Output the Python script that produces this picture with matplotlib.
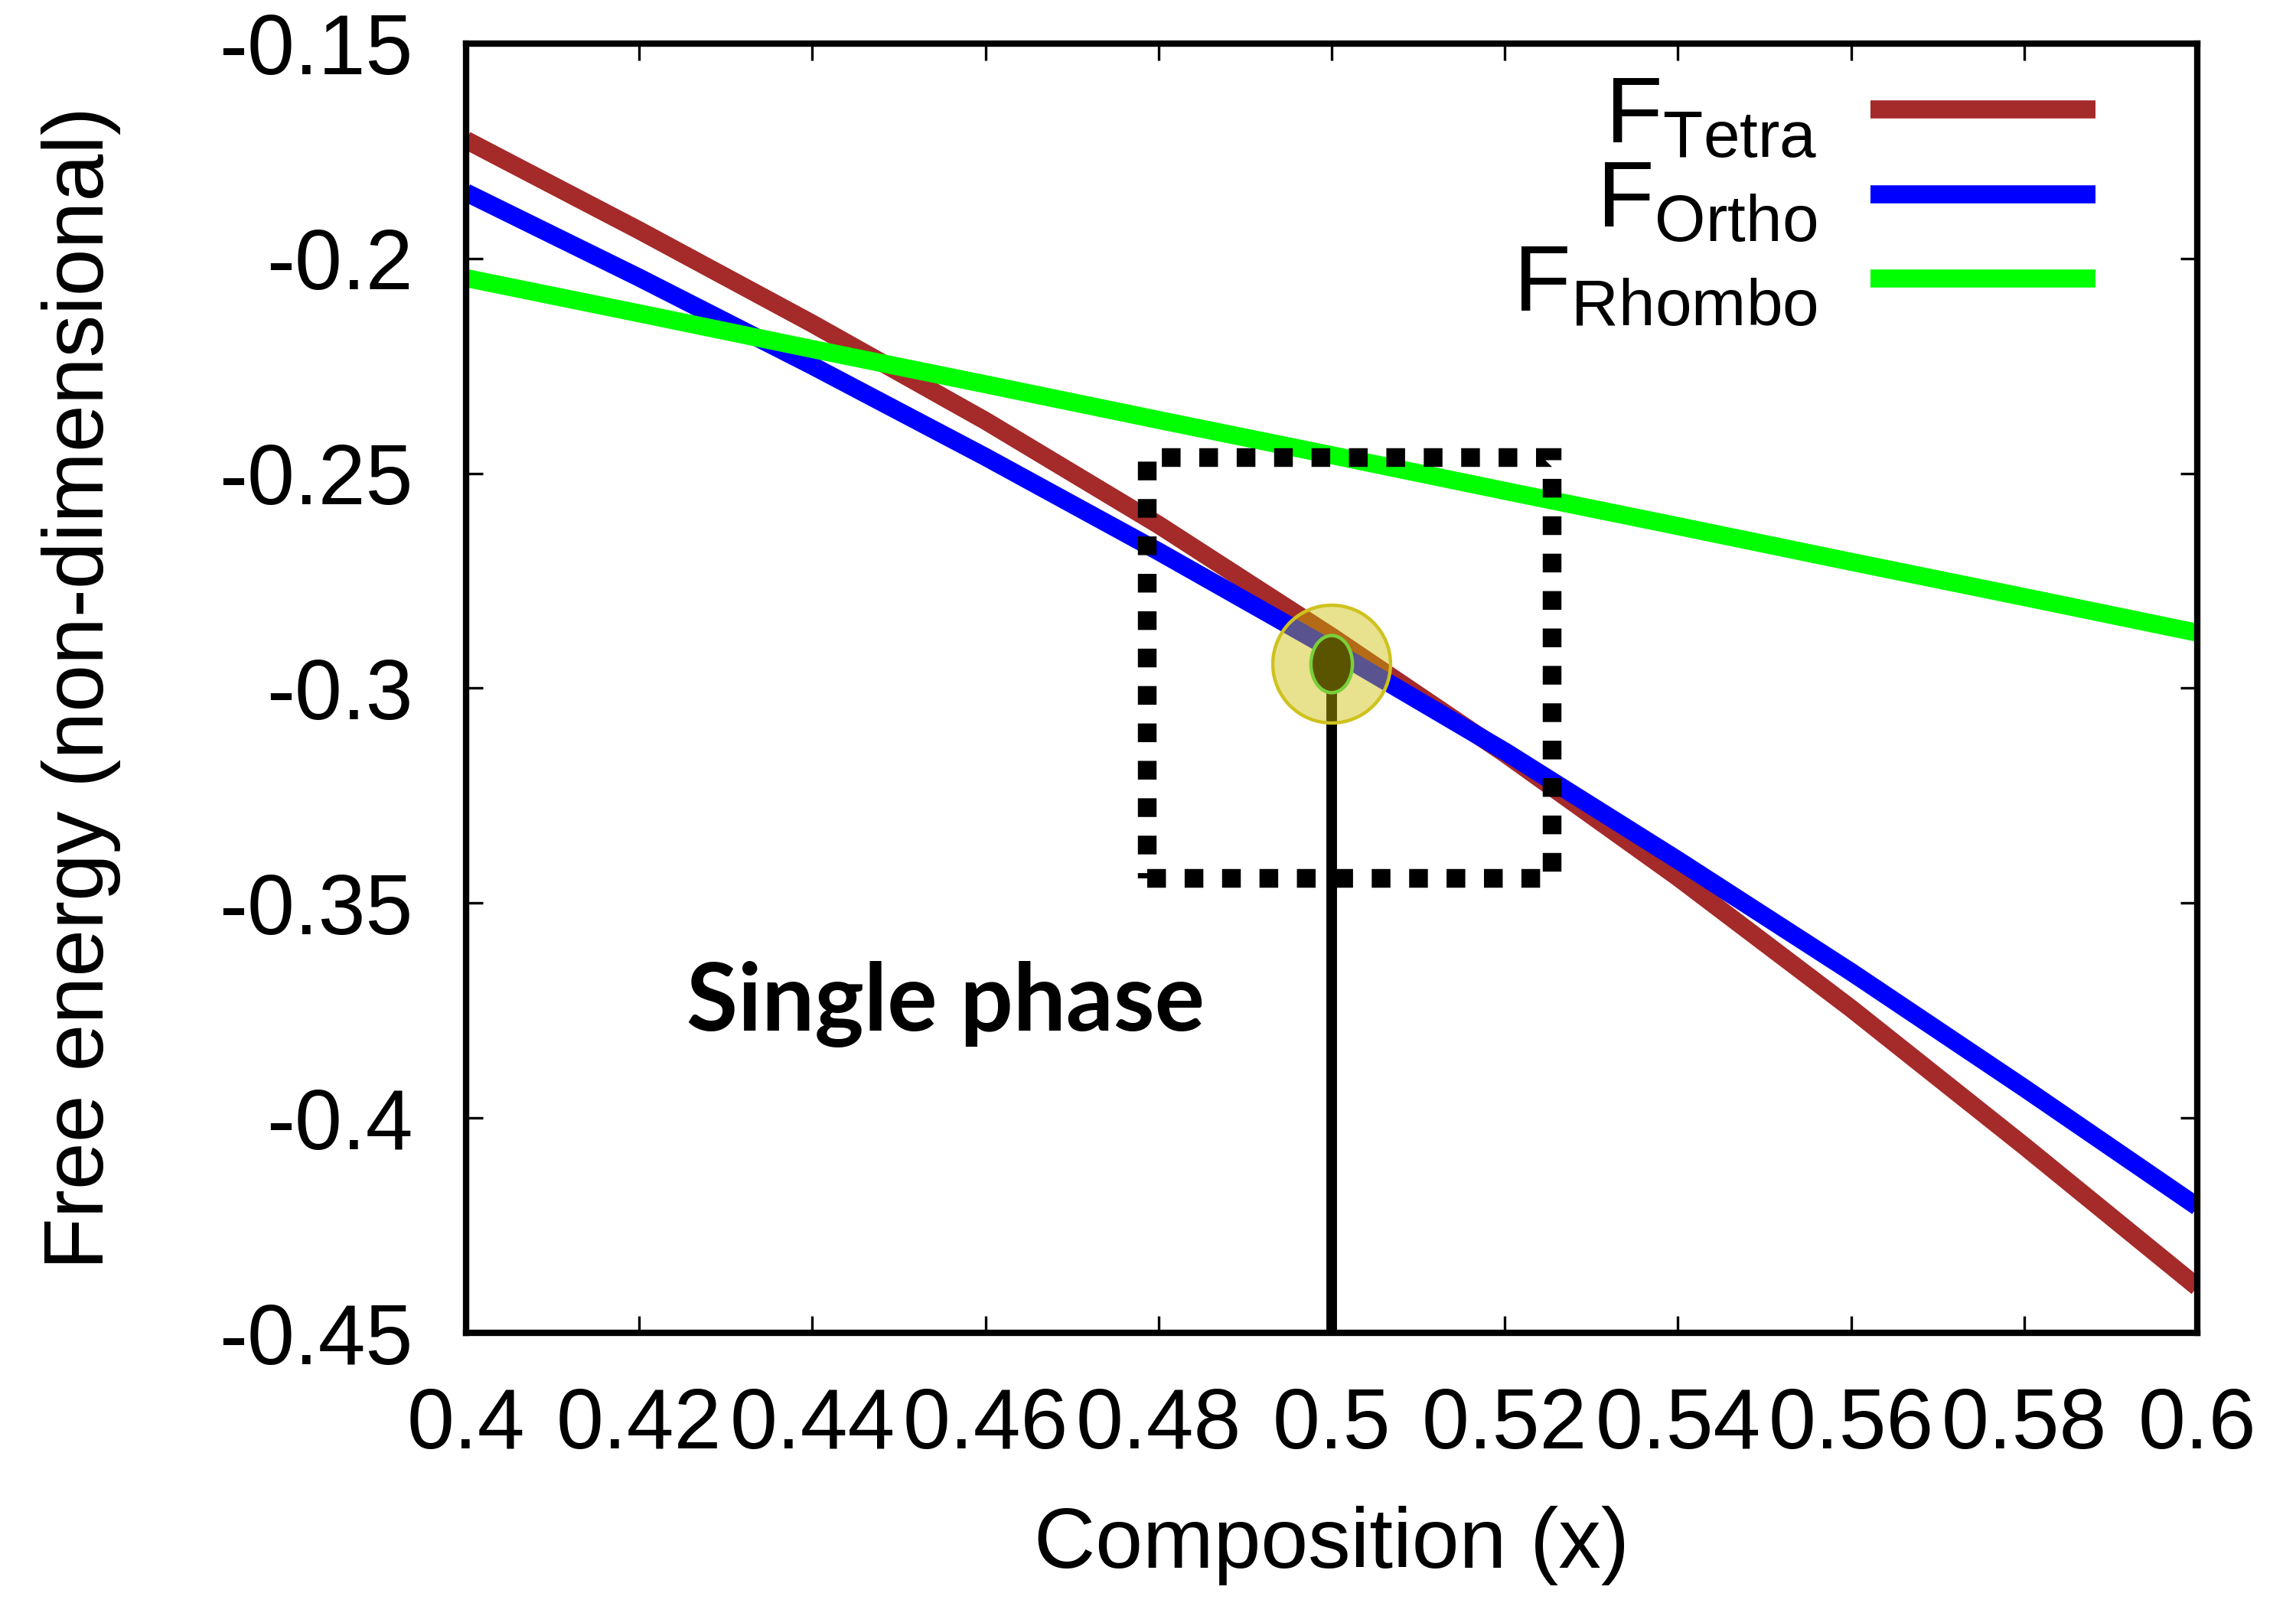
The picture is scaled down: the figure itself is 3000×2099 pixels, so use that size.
import matplotlib
matplotlib.use('Agg')
import matplotlib.pyplot as plt
from matplotlib.patches import Ellipse, Rectangle
from matplotlib.ticker import FuncFormatter

plt.rcParams['font.family'] = ['Liberation Sans', 'DejaVu Sans']
plt.rcParams['mathtext.fontset'] = 'custom'
plt.rcParams['mathtext.rm'] = 'Liberation Sans'
plt.rcParams['axes.unicode_minus'] = False

# ── Data ──
composition = [0.40, 0.42, 0.44, 0.46, 0.48, 0.50, 0.52, 0.54, 0.56, 0.58, 0.60]
f_tetra = [-0.1725, -0.1935, -0.2152, -0.2378, -0.2620, -0.2880, -0.3152,
           -0.3440, -0.3745, -0.4065, -0.4393]
f_ortho = [-0.1847, -0.2045, -0.2250, -0.2462, -0.2682, -0.2910, -0.3147,
           -0.3400, -0.3660, -0.3930, -0.4206]
f_rhombo = [-0.2046, -0.2128, -0.2211, -0.2293, -0.2376, -0.2458, -0.2541,
            -0.2623, -0.2706, -0.2788, -0.2871]

labels = [r'$\mathregular{F_{Tetra}}$', r'$\mathregular{F_{Ortho}}$',
          r'$\mathregular{F_{Rhombo}}$']
colors = ['#A52A2A', '#0000FF', '#00FF00']

# highlighted point and zoom box
point_x, point_y = 0.5, -0.2944
box_x = [0.4787, 0.5255]
box_y = [-0.3442, -0.2463]
note_x, note_y = 0.4554, -0.3736

fig = plt.figure(figsize=(15, 10.495), dpi=200)
ax = fig.add_axes([0.203, 0.170, 0.754, 0.803])

for ys, lab, c in zip([f_tetra, f_ortho, f_rhombo], labels, colors):
    ax.plot(composition, ys, color=c, linewidth=8.5, label=lab,
            solid_capstyle='butt', zorder=2)

# vertical marker line from the point down to the axis
ax.plot([point_x, point_x], [-0.45, point_y], color='black', linewidth=5, zorder=3)

ax.add_patch(Ellipse((point_x, point_y), 0.0136, 0.0274, facecolor='#CBBE00',
                     alpha=0.44, edgecolor='none', zorder=4))
ax.add_patch(Ellipse((point_x, point_y), 0.0136, 0.0274, facecolor='none',
                     edgecolor='#CFC21E', linewidth=1.6, zorder=4))
ax.add_patch(Ellipse((point_x, point_y), 0.0048, 0.0133, facecolor='#5A5400',
                     edgecolor='#7AD03A', linewidth=1.6, zorder=5))

ax.add_patch(Rectangle((box_x[0], box_y[0]), box_x[1] - box_x[0], box_y[1] - box_y[0],
                       fill=False, edgecolor='black', linewidth=8.8,
                       linestyle=(0, (1, 1)), capstyle='butt', zorder=6))

ax.text(note_x, note_y, 'Single phase', family=['Lato', 'DejaVu Sans'],
        fontweight='bold', fontsize=44, ha='center', va='center', zorder=7)

ax.set_xlim(0.4, 0.6)
ax.set_ylim(-0.45, -0.15)
ax.set_xticks([0.40, 0.42, 0.44, 0.46, 0.48, 0.50, 0.52, 0.54, 0.56, 0.58, 0.60])
ax.set_yticks([-0.45, -0.40, -0.35, -0.30, -0.25, -0.20, -0.15])
fmt = FuncFormatter(lambda v, pos: '%g' % round(v, 4))
ax.xaxis.set_major_formatter(fmt)
ax.yaxis.set_major_formatter(fmt)
ax.tick_params(direction='in', length=8, width=1.2, top=True, right=True,
               labelsize=40)
ax.tick_params(axis='x', pad=25)
ax.tick_params(axis='y', pad=25)
for s in ax.spines.values():
    s.set_linewidth(3)

ax.set_xlabel('Composition (x)', fontsize=40, labelpad=19)
ax.set_ylabel('Free energy (non-dimensional)', fontsize=40, labelpad=46)

ax.legend(loc='upper right', bbox_to_anchor=(0.941, 0.976), frameon=False,
          fontsize=44, markerfirst=False, handlelength=2.4, handletextpad=0.57,
          labelspacing=-0.03, borderaxespad=0, borderpad=0)

fig.savefig('out.png', dpi=200)
